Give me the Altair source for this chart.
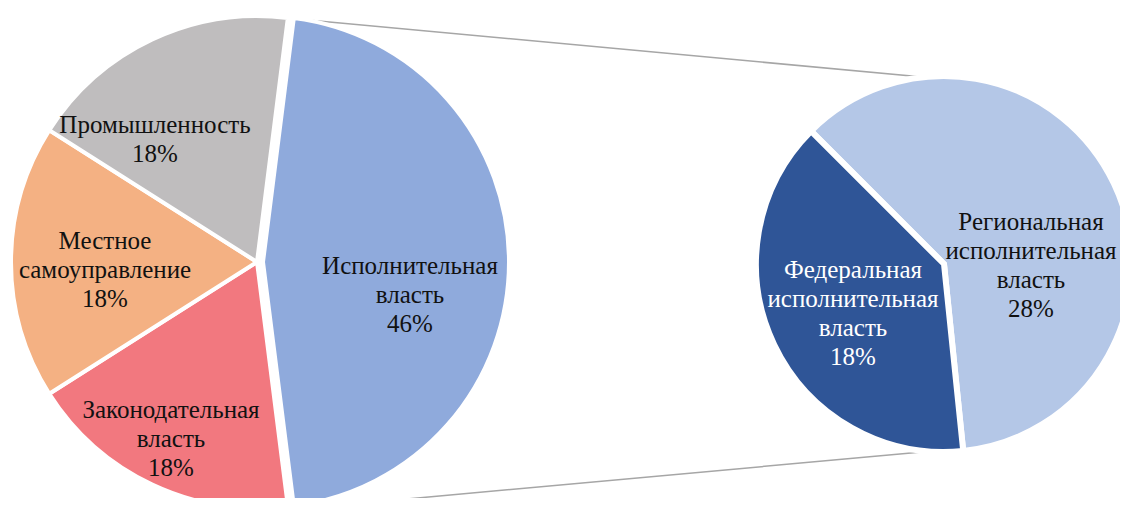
import altair as alt
import pandas as pd
import math

# ---- data ----
main_cats = ["Исполнительная власть", "Законодательная власть", "Местное самоуправление", "Промышленность"]
main_vals = [46, 18, 18, 18]
main_colors = ["#8FAADC", "#F2787F", "#F4B183", "#BFBDBE"]

sub_cats = ["Региональная исполнительная власть", "Федеральная исполнительная власть"]
sub_vals = [28, 18]
sub_colors = ["#B4C7E7", "#2F5597"]

main_labels = ["Исполнительная\nвласть\n46%", "Законодательная\nвласть\n18%",
               "Местное\nсамоуправление\n18%", "Промышленность\n18%"]
sub_labels = ["Региональная\nисполнительная\nвласть\n28%", "Федеральная\nисполнительная\nвласть\n18%"]

# ---- layout (page px; chart origin is at page (8, 8)) ----
OFF = 8
W, H = 1112, 490
main_c = (257 - OFF, 262 - OFF)
main_blue_c = (263 - OFF, 262 - OFF)
main_r = 246
sub_c = (944 - OFF, 264 - OFF)
sub_r = 188
main_start = math.radians(90 - 46 / 100 * 180)
sub_start = math.radians(315)

# position of the first line of each label
main_label_pos = [(410, 266), (171, 410), (105, 241), (155, 125)]
sub_label_pos = [(1031, 222), (853, 270)]

dm = pd.DataFrame({"cat": main_cats, "v": main_vals, "i": range(len(main_cats))})
ds = pd.DataFrame({"cat": sub_cats, "v": sub_vals, "i": range(len(sub_cats))})

main_color = alt.Color("cat:N", scale=alt.Scale(domain=main_cats, range=main_colors), legend=None)
sub_color = alt.Color("cat:N", scale=alt.Scale(domain=sub_cats, range=sub_colors), legend=None)


def pie(df, color, c, r, start, sw, keep=None, drop=None):
    enc = dict(
        theta=alt.Theta("v:Q", stack=True, scale=alt.Scale(range=[start, start + 2 * math.pi])),
        color=color,
        order=alt.Order("i:Q"),
        x=alt.value(c[0]),
        y=alt.value(c[1]),
    )
    if keep is not None:
        enc["opacity"] = alt.condition(alt.datum.cat == keep, alt.value(1), alt.value(0))
    if drop is not None:
        enc["opacity"] = alt.condition(alt.datum.cat == drop, alt.value(0), alt.value(1))
    return alt.Chart(df).mark_arc(radius=r, stroke="white", strokeWidth=sw).encode(**enc)


main_rest = pie(dm, main_color, main_c, main_r, main_start, 4, drop=main_cats[0])
main_blue = pie(dm, main_color, main_blue_c, main_r, main_start, 4, keep=main_cats[0])
sub_pie = pie(ds, sub_color, sub_c, sub_r, sub_start, 6)

# connector lines
conn = pd.DataFrame({
    "x": [297 - OFF, 297 - OFF],
    "y": [19 - OFF, 509 - OFF],
    "x2": [944 - OFF, 944 - OFF],
    "y2": [79 - OFF, 450 - OFF],
})
lines = alt.Chart(conn).mark_rule(color="#A6A6A6", strokeWidth=1.5).encode(
    x=alt.X("x:Q", scale=None), y=alt.Y("y:Q", scale=None),
    x2="x2:Q", y2="y2:Q",
)

lab = pd.DataFrame({
    "t": main_labels + sub_labels,
    "x": [p[0] - OFF for p in main_label_pos + sub_label_pos],
    "y": [p[1] - OFF for p in main_label_pos + sub_label_pos],
    "col": ["#111111"] * 4 + ["#111111", "#FFFFFF"],
})
texts = alt.Chart(lab).mark_text(
    font="Liberation Serif", fontSize=25, lineBreak="\n", lineHeight=29,
    align="center", baseline="middle",
).encode(
    x=alt.X("x:Q", scale=None), y=alt.Y("y:Q", scale=None),
    text="t:N", color=alt.Color("col:N", scale=None),
)

chart = alt.layer(lines, main_rest, main_blue, sub_pie, texts).resolve_scale(
    color="independent", theta="independent"
).properties(
    width=W, height=H, padding=0, autosize=alt.AutoSizeParams(type="none")
).configure_view(stroke=None)

chart.save("out.html", embed_options={"renderer": "svg", "actions": False})
